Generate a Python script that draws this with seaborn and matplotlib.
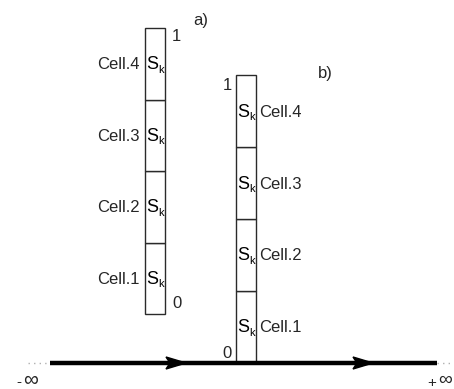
import matplotlib
matplotlib.use("Agg")
import matplotlib.pyplot as plt
from matplotlib.patches import Polygon
import seaborn as sns

sns.set_theme(style="white")
plt.rcParams["font.family"] = ["Liberation Sans", "DejaVu Sans"]

# Cells of the unit interval [0, 1], listed bottom to top
cells = ["Cell.1", "Cell.2", "Cell.3", "Cell.4"]
cell_share = [0.25, 0.25, 0.25, 0.25]
end_labels = ["0", "1"]
panels = ["a)", "b)"]

# Layout of the two columns in pixel space: (x_left, width, y_bottom, y_top)
columns = {
    "a)": dict(x=145, w=20, y0=314, y1=28, label_side="left"),
    "b)": dict(x=236, w=20, y0=363, y1=75, label_side="right"),
}
panel_pos = {"a)": (193, 20), "b)": (318, 73)}

fig = plt.figure(figsize=(4.54, 3.89), dpi=100)
ax = fig.add_axes([0, 0, 1, 1])
ax.set_xlim(0, 454)
ax.set_ylim(389, 0)
ax.axis("off")

edge = "#2a2a2a"
for name, c in columns.items():
    span = c["y1"] - c["y0"]
    level = 0.0
    for i, (cell, share) in enumerate(zip(cells, cell_share)):
        bottom = c["y0"] + level * span
        height = share * span
        ax.bar(c["x"] + c["w"] / 2, height, bottom=bottom, width=c["w"],
               color="white", edgecolor=edge, linewidth=1.0, zorder=2)
        yc = bottom + height / 2 + 1
        ax.text(c["x"] + 1.0, yc, "S", fontsize=13, ha="left", va="center",
                color="black", zorder=3)
        ax.text(c["x"] + 13, yc + 5, "k", fontsize=8, ha="left", va="center",
                color="black", zorder=3)
        if c["label_side"] == "left":
            ax.text(c["x"] - 5, yc, cell, fontsize=12, ha="right", va="center")
        else:
            ax.text(c["x"] + c["w"] + 3, yc, cell, fontsize=12, ha="left", va="center")
        level += share
    # end labels 0 and 1
    if c["label_side"] == "left":
        ax.text(c["x"] + c["w"] + 7, c["y0"] - 10, end_labels[0], fontsize=12,
                ha="left", va="center")
        ax.text(c["x"] + c["w"] + 7, c["y1"] + 8, end_labels[1], fontsize=12,
                ha="left", va="center")
    else:
        ax.text(c["x"] - 4, c["y0"] - 10, end_labels[0], fontsize=12,
                ha="right", va="center")
        ax.text(c["x"] - 4, c["y1"] + 10, end_labels[1], fontsize=12,
                ha="right", va="center")
    px, py = panel_pos[name]
    ax.text(px, py, name, fontsize=12, ha="left", va="center")

# Real line from -infinity to +infinity
line_y = 363
ax.plot([50, 437], [line_y, line_y], color="black", linewidth=3.2,
        solid_capstyle="butt", zorder=4)
ax.plot([28, 50], [line_y, line_y], color="#b0b0b0", linewidth=1,
        linestyle=(0, (1, 3)), zorder=1)
ax.plot([437, 454], [line_y, line_y], color="#b0b0b0", linewidth=1,
        linestyle=(0, (1, 3)), zorder=1)
for tip in (186, 373):
    ax.add_patch(Polygon([(tip - 20, line_y - 6), (tip, line_y),
                          (tip - 20, line_y + 6), (tip - 16, line_y)],
                         closed=True, color="black", zorder=5))

ax.text(16, 382, "-", fontsize=11, ha="left", va="center")
ax.text(23, 381, "∞", fontsize=15, ha="left", va="center")
ax.text(427, 383, "+", fontsize=11, ha="left", va="center")
ax.text(452, 380, "∞", fontsize=14, ha="right", va="center")

fig.savefig("out.png", dpi=100)
